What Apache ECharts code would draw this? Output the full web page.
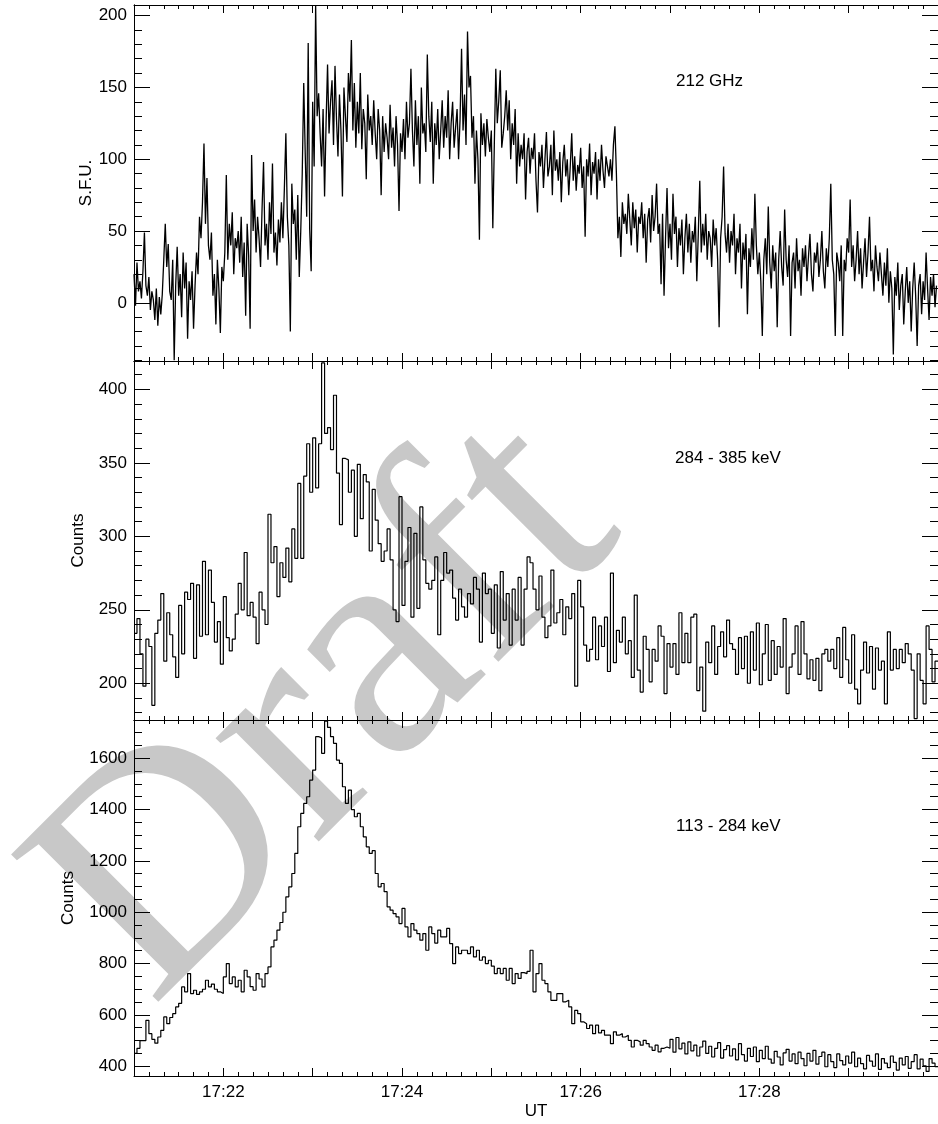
<!DOCTYPE html>
<html>
<head>
<meta charset="utf-8">
<script src="https://cdn.jsdelivr.net/npm/echarts@6/dist/echarts.min.js"></script>
<style>
html,body{margin:0;padding:0;background:#fff;}
#chart{width:938px;height:1124px;}
</style>
</head>
<body>
<div id="chart"></div>
<script>
// ---- time axis (seconds after 17:21:00) ----
const T_MAX = 540;
const GHZ_DT = 1;      // seconds per 212 GHz sample
const BIN_DT = 2;      // seconds per HXR bin
const xLabelSeconds = [60, 180, 300, 420];
const xLabelText = ['17:22', '17:24', '17:26', '17:28'];

// ---- panel tick values ----
const ghzMajor = [0, 50, 100, 150, 200];
const ghzMinor = [-40, -30, -20, -10, 10, 20, 30, 40, 60, 70, 80, 90, 110, 120, 130, 140, 160, 170, 180, 190];
const hiMajor = [200, 250, 300, 350, 400];
const hiMinor = [180, 190, 210, 220, 230, 240, 260, 270, 280, 290, 310, 320, 330, 340, 360, 370, 380, 390, 410];
const loMajor = [400, 600, 800, 1000, 1200, 1400, 1600];
const loMinor = [450, 500, 550, 650, 700, 750, 850, 900, 950, 1050, 1100, 1150, 1250, 1300, 1350, 1450, 1500, 1550, 1650, 1700];

// ---- 212 GHz flux (S.F.U.), 1 s samples ----
const ghz212 = [
20,-2,28,8,15,3,22,49,12,5,
18,-5,8,2,-12,10,-16,4,-8,6,
30,55,25,41,8,2,30,-40,12,39,
5,20,-10,35,10,28,-25,15,2,22,
-18,12,35,20,60,45,70,111,55,87,
40,30,49,5,20,-15,30,10,-21,25,
15,35,89,30,55,40,63,20,45,38,
50,28,60,18,42,-9,55,33,-18,103,
50,72,35,60,45,25,65,98,40,55,
30,70,48,97,35,49,26,58,42,70,
45,80,118,60,40,-20,83,55,65,30,
75,18,50,90,153,104,60,181,51,22,
140,95,207,130,146,118,95,135,74,125,
166,118,140,155,110,165,128,102,145,120,
74,150,130,112,160,140,183,120,153,108,
140,118,160,107,135,125,86,145,120,130,
110,141,118,100,135,120,75,130,105,125,
115,100,138,108,122,95,130,110,64,118,
105,128,100,140,115,125,163,120,95,141,
110,130,83,150,118,125,105,173,130,112,
140,83,125,110,135,100,120,141,108,130,
115,148,100,125,140,108,122,135,100,128,
177,120,145,110,189,150,158,115,130,83,
120,100,44,132,110,125,102,128,115,105,
120,52,110,163,125,141,162,108,118,130,
148,120,141,100,125,110,135,83,118,95,
110,100,118,72,105,115,90,108,100,118,
85,63,105,95,110,80,100,119,88,95,
110,75,120,92,100,85,105,70,98,110,
88,100,75,95,118,85,102,78,96,90,
108,80,95,46,100,88,111,75,98,90,
105,72,100,85,110,92,80,102,95,88,
100,85,110,123,90,45,60,32,70,55,
62,48,76,58,40,70,52,65,35,60,
55,70,45,62,28,58,66,42,75,50,
60,83,48,55,13,62,5,45,80,38,
55,30,76,48,60,25,52,40,58,20,
45,62,35,55,28,50,42,60,15,48,
85,35,55,40,62,30,50,45,25,58,
40,52,30,-17,45,60,95,48,35,55,
28,50,40,62,20,45,35,55,10,42,
30,48,-8,38,25,52,30,76,40,20,
35,15,-23,30,45,20,67,28,10,40,
22,35,-17,30,50,25,12,65,30,18,
40,-23,28,35,10,45,22,30,5,38,
25,40,15,32,48,20,8,35,28,42,
18,30,50,22,10,38,25,45,83,30,
20,-23,35,28,15,40,-23,30,22,45,
35,72,25,40,15,30,50,20,38,10,
28,45,18,35,60,22,30,8,40,25,
15,35,20,5,28,12,38,0,22,10,
-36,18,5,28,-5,12,20,-15,8,25,
0,15,-20,10,28,5,-30,12,20,-8,
15,2,35,10,-12,18,5,20,-3,12
];

// ---- 284 - 385 keV counts, 2 s bins ----
const hxr284 = [
234,244,220,198,230,225,185,234,243,261,
215,248,233,218,204,253,220,262,257,268,
217,267,232,283,233,277,255,228,242,213,
259,231,222,230,247,268,250,289,246,255,
245,227,262,250,240,315,282,293,259,282,
272,292,269,305,285,336,285,341,363,330,
367,333,363,418,370,374,359,396,343,308,
353,352,330,345,300,349,312,342,337,290,
332,311,295,283,290,305,284,250,242,327,
253,283,306,245,302,251,320,284,268,264,
270,286,233,270,289,275,277,258,243,264,
252,245,261,254,272,264,228,275,261,264,
234,267,224,276,243,261,226,264,243,272,
226,264,286,282,264,250,273,245,231,239,
277,241,248,257,233,252,244,261,198,270,
252,226,215,223,245,216,239,225,245,208,
275,214,236,228,245,220,229,204,260,209,
194,232,223,201,223,215,239,232,193,
227,211,227,206,248,214,234,214,245,247,
195,211,181,228,214,239,206,225,235,218,
243,227,223,206,231,210,232,200,235,209,
241,199,220,240,202,229,206,225,211,244,
193,211,220,239,206,242,220,203,216,202,
217,195,220,223,215,223,210,231,204,238,
216,200,233,196,186,209,228,207,225,196,
224,209,215,186,235,209,223,210,223,214,
227,220,209,176,220,202,186,239,223,201,
215
];

// ---- 113 - 284 keV counts, 2 s bins ----
const hxr113 = [
450,470,500,500,579,527,505,490,514,540,
592,566,590,605,631,645,709,690,761,683,
696,680,690,700,735,709,720,700,690,683,
748,800,722,748,709,735,690,774,748,710,
696,761,740,709,761,787,865,891,930,960,
1000,1060,1099,1151,1229,1333,1385,1424,1450,1515,
1554,1684,1680,1619,1745,1720,1684,1658,1593,1580,
1489,1424,1476,1400,1372,1385,1333,1294,1255,1229,
1240,1151,1099,1112,1080,1021,1008,995,982,956,
1015,943,904,956,930,917,891,917,852,943,
917,880,930,904,904,937,878,800,865,839,
852,852,839,865,826,852,813,826,800,813,
790,761,781,761,781,735,781,722,761,742,
765,761,770,852,690,761,800,735,722,690,
657,657,683,683,651,657,631,566,618,605,
573,566,547,560,527,560,530,540,521,521,
488,534,521,527,514,521,501,475,501,495,
482,501,488,475,462,482,456,470,475,
470,505,455,512,468,490,448,495,460,482,
440,475,498,450,478,436,470,492,432,465,
480,440,468,425,488,445,420,470,438,475,
418,462,430,478,428,412,458,436,405,452,
466,420,448,410,455,430,402,450,420,462,
408,438,455,398,445,418,395,448,422,405,
440,412,455,398,432,410,390,442,420,400,
448,388,430,412,395,440,415,385,432,405,
438,392,418,445,390,428,402,380,430,412,
398
];

const panelLabels = ['212 GHz', '284 - 385 keV', '113 - 284 keV'];
const yNames = ['S.F.U.', 'Counts', 'Counts'];
const watermark = 'Draft';

// ---- layout / styles ----
const FONT = '"Liberation Sans", Arial, Helvetica, sans-serif';
const FS = 17;
const grids = [
  {left: 134, right: -6, top: 5, height: 356},
  {left: 134, right: -6, top: 361, height: 359},
  {left: 134, right: -6, top: 720, height: 356}
];
const yRanges = [[-40.5, 207.4], [175, 419.3], [362, 1749]];
const yTicks = [[ghzMajor, ghzMinor], [hiMajor, hiMinor], [loMajor, loMinor]];
const nameGaps = [39, 47, 57];
const lineCol = '#000';

function xAxesFor(g, showLabels) {
  const base = {
    type: 'value', gridIndex: g, min: 0, max: T_MAX, interval: 60,
    axisLine: {show: true, onZero: false, lineStyle: {color: lineCol, width: 1}},
    axisTick: {show: true, inside: true, length: 8, lineStyle: {color: lineCol, width: 1}},
    minorTick: {show: true, splitNumber: 6, length: 4, lineStyle: {color: lineCol, width: 1}},
    splitLine: {show: false}, minorSplitLine: {show: false}
  };
  const bottom = Object.assign({}, base, {
    position: 'bottom',
    axisLabel: showLabels ? {
      show: true, customValues: xLabelSeconds, margin: 8,
      fontFamily: FONT, fontSize: FS, color: '#000',
      formatter: v => { const k = xLabelSeconds.indexOf(v); return k >= 0 ? xLabelText[k] : ''; }
    } : {show: false},
    name: showLabels ? 'UT' : '', nameLocation: 'middle', nameGap: 27, nameMoveOverlap: false,
    nameTextStyle: {fontFamily: FONT, fontSize: FS, color: '#000'}
  });
  const top = Object.assign({}, base, {position: 'top', axisLabel: {show: false}});
  return [bottom, top];
}

function yAxesFor(g) {
  const [mn, mx] = yRanges[g];
  const [major, minor] = yTicks[g];
  const common = {
    type: 'value', gridIndex: g, min: mn, max: mx,
    splitLine: {show: false},
    axisLine: {show: true, onZero: false, lineStyle: {color: lineCol, width: 1}}
  };
  const tick = (vals, len) => ({show: true, inside: true, length: len, customValues: vals, lineStyle: {color: lineCol, width: 1}});
  return [
    Object.assign({}, common, {
      position: 'left', name: yNames[g], nameLocation: 'middle', nameGap: nameGaps[g], nameMoveOverlap: false,
      nameTextStyle: {fontFamily: FONT, fontSize: FS, color: '#000'},
      axisTick: tick(major, 16),
      axisLabel: {show: true, customValues: major, margin: 7, fontFamily: FONT, fontSize: FS, color: '#000',
                  formatter: v => String(v)}
    }),
    Object.assign({}, common, {position: 'left', axisTick: tick(minor, 8), axisLabel: {show: false}}),
    Object.assign({}, common, {position: 'right', axisTick: tick(major, 16), axisLabel: {show: false}}),
    Object.assign({}, common, {position: 'right', axisTick: tick(minor, 8), axisLabel: {show: false}})
  ];
}

const xAxis = [].concat(xAxesFor(0, false), xAxesFor(1, false), xAxesFor(2, true));
const yAxis = [].concat(yAxesFor(0), yAxesFor(1), yAxesFor(2));

function stepData(vals, dt) {
  const d = vals.map((v, i) => [i * dt, v]);
  d.push([vals.length * dt, vals[vals.length - 1]]);
  return d;
}

const series = [
  {type: 'line', xAxisIndex: 0, yAxisIndex: 0, data: ghz212.map((v, i) => [i * GHZ_DT, v]),
   symbol: 'none', showSymbol: false, lineStyle: {color: lineCol, width: 1.3}, clip: true, z: 3},
  {type: 'line', xAxisIndex: 2, yAxisIndex: 4, data: stepData(hxr284, BIN_DT), step: 'end',
   symbol: 'none', showSymbol: false, lineStyle: {color: lineCol, width: 1.2}, clip: true, z: 3},
  {type: 'line', xAxisIndex: 4, yAxisIndex: 8, data: stepData(hxr113, BIN_DT), step: 'end',
   symbol: 'none', showSymbol: false, lineStyle: {color: lineCol, width: 1.2}, clip: true, z: 3}
];

const labelPos = [[676, 81], [675, 458], [676, 826]];
const graphic = [
  {type: 'text', x: 330, y: 712, rotation: Math.PI / 4, z: -100, silent: true,
   style: {text: watermark, font: '318px "Liberation Serif", "Times New Roman", serif', fill: '#c8c8c8',
           align: 'center', verticalAlign: 'middle', textAlign: 'center', textVerticalAlign: 'middle'}}
].concat(panelLabels.map((t, i) => ({
  type: 'text', x: labelPos[i][0], y: labelPos[i][1], z: 100, silent: true,
  style: {text: t, font: FS + 'px ' + FONT, fill: '#000', align: 'left', verticalAlign: 'middle',
          textAlign: 'left', textVerticalAlign: 'middle'}
})));

const chart = echarts.init(document.getElementById('chart'), null, {renderer: 'canvas'});
chart.setOption({
  animation: false,
  backgroundColor: '#fff',
  grid: grids,
  xAxis, yAxis, series, graphic
});
</script>
</body>
</html>
